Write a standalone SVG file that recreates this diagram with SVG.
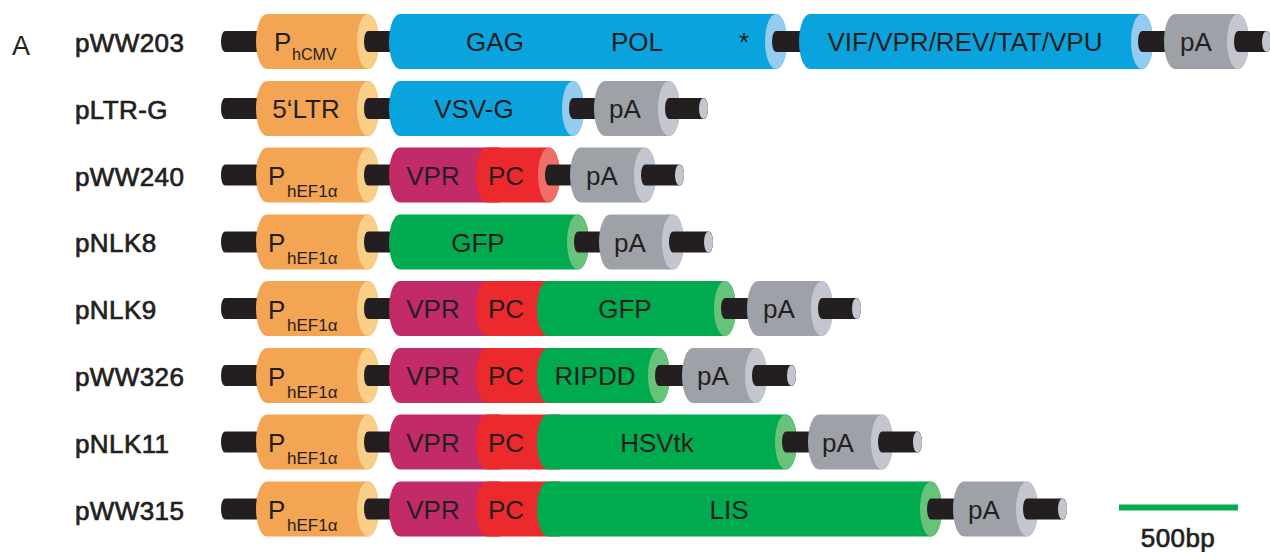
<svg xmlns="http://www.w3.org/2000/svg" width="1270" height="552" viewBox="0 0 1270 552">
<style>
.rod{fill:#231F20}
.end{fill:#C3C6CE}
.or{fill:#F3A553}.orc{fill:#F9CE86}
.bl{fill:#0BA3DD}.blc{fill:#93CCEE}
.gy{fill:#9EA2A8}.gyc{fill:#C3C6CE}
.mg{fill:#C32A68}
.rd{fill:#EC2A2E}.rdc{fill:#F16E68}
.gn{fill:#00AA4F}.gnc{fill:#67C27A}
text{font-family:"Liberation Sans",Arial,Helvetica,sans-serif;fill:#231F20}
.t{font-size:26px;text-anchor:middle}
.p{font-size:26px}
.s1{font-size:16px}
.s2{font-size:17px}
.lab{font-size:26px;stroke:#231F20;stroke-width:0.7;letter-spacing:0.4px}
</style>
<text x="12" y="55" style="font-size:27px">A</text>

<g id="pWW203">
<text class="lab" x="75" y="52">pWW203</text>
<rect class="rod" x="221" y="31" width="50" height="21" rx="4" ry="10.5"/>
<path class="or" d="M267 14H368A11 27.5 0 0 1 368 69H267A11 27.5 0 0 1 267 14Z"/><ellipse class="orc" cx="368" cy="41.5" rx="11" ry="27.5"/>
<rect class="rod" x="364" y="31" width="40" height="21" rx="4" ry="10.5"/>
<path class="bl" d="M400 14H776A11 27.5 0 0 1 776 69H400A11 27.5 0 0 1 400 14Z"/><ellipse class="blc" cx="776" cy="41.5" rx="11" ry="27.5"/>
<rect class="rod" x="772" y="31" width="40" height="21" rx="4" ry="10.5"/>
<path class="bl" d="M810 14H1142A11 27.5 0 0 1 1142 69H810A11 27.5 0 0 1 810 14Z"/><ellipse class="blc" cx="1142" cy="41.5" rx="11" ry="27.5"/>
<rect class="rod" x="1138" y="31" width="40" height="21" rx="4" ry="10.5"/>
<path class="gy" d="M1175 14H1238A11 27.5 0 0 1 1238 69H1175A11 27.5 0 0 1 1175 14Z"/><ellipse class="gyc" cx="1238" cy="41.5" rx="11" ry="27.5"/>
<rect class="rod" x="1234" y="31" width="37" height="21" rx="4" ry="10.5"/><ellipse class="end" cx="1266.5" cy="41.5" rx="4.5" ry="10.5"/>
<text class="p" x="274" y="51">P<tspan class="s1" x="292" y="59.5">hCMV</tspan></text>
<text class="t" x="495" y="51">GAG</text>
<text class="t" x="637" y="51">POL</text>
<text class="t" x="744" y="51">*</text>
<text class="t" x="965" y="51">VIF/VPR/REV/TAT/VPU</text>
<text class="t" x="1196" y="51">pA</text>
</g>

<g id="pLTR-G">
<text class="lab" x="75" y="119">pLTR-G</text>
<rect class="rod" x="221" y="98" width="50" height="21" rx="4" ry="10.5"/>
<path class="or" d="M267 81H368A11 27.5 0 0 1 368 136H267A11 27.5 0 0 1 267 81Z"/><ellipse class="orc" cx="368" cy="108.5" rx="11" ry="27.5"/>
<rect class="rod" x="364" y="98" width="40" height="21" rx="4" ry="10.5"/>
<path class="bl" d="M400 81H573A11 27.5 0 0 1 573 136H400A11 27.5 0 0 1 400 81Z"/><ellipse class="blc" cx="573" cy="108.5" rx="11" ry="27.5"/>
<rect class="rod" x="569" y="98" width="40" height="21" rx="4" ry="10.5"/>
<path class="gy" d="M605 81H669A11 27.5 0 0 1 669 136H605A11 27.5 0 0 1 605 81Z"/><ellipse class="gyc" cx="669" cy="108.5" rx="11" ry="27.5"/>
<rect class="rod" x="665" y="98" width="43" height="21" rx="4" ry="10.5"/><ellipse class="end" cx="703.5" cy="108.5" rx="4.5" ry="10.5"/>
<text class="t" x="306" y="118">5‘LTR</text>
<text class="t" x="474" y="118">VSV-G</text>
<text class="t" x="625" y="118">pA</text>
</g>

<g id="pWW240">
<text class="lab" x="75" y="185.5">pWW240</text>
<rect class="rod" x="221" y="164.5" width="50" height="21" rx="4" ry="10.5"/>
<path class="or" d="M267 147.5H368A11 27.5 0 0 1 368 202.5H267A11 27.5 0 0 1 267 147.5Z"/><ellipse class="orc" cx="368" cy="175" rx="11" ry="27.5"/>
<rect class="rod" x="364" y="164.5" width="40" height="21" rx="4" ry="10.5"/>
<path class="mg" d="M400 147.5H500V202.5H400A11 27.5 0 0 1 400 147.5Z"/>
<path class="rd" d="M487 147.5H549A11 27.5 0 0 1 549 202.5H487A11 27.5 0 0 1 487 147.5Z"/><ellipse class="rdc" cx="549" cy="175" rx="11" ry="27.5"/>
<rect class="rod" x="545" y="164.5" width="40" height="21" rx="4" ry="10.5"/>
<path class="gy" d="M581 147.5H645A11 27.5 0 0 1 645 202.5H581A11 27.5 0 0 1 581 147.5Z"/><ellipse class="gyc" cx="645" cy="175" rx="11" ry="27.5"/>
<rect class="rod" x="641" y="164.5" width="43" height="21" rx="4" ry="10.5"/><ellipse class="end" cx="679.5" cy="175" rx="4.5" ry="10.5"/>
<text class="p" x="268" y="185">P<tspan class="s2" x="287" y="197">hEF1α</tspan></text>
<text class="t" x="433" y="184.5">VPR</text>
<text class="t" x="506" y="184.5">PC</text>
<text class="t" x="602" y="184.5">pA</text>
</g>

<g id="pNLK8">
<text class="lab" x="75" y="252">pNLK8</text>
<rect class="rod" x="221" y="231.5" width="50" height="21" rx="4" ry="10.5"/>
<path class="or" d="M267 214.5H368A11 27.5 0 0 1 368 269.5H267A11 27.5 0 0 1 267 214.5Z"/><ellipse class="orc" cx="368" cy="242" rx="11" ry="27.5"/>
<rect class="rod" x="364" y="231.5" width="40" height="21" rx="4" ry="10.5"/>
<path class="gn" d="M400 214.5H578A11 27.5 0 0 1 578 269.5H400A11 27.5 0 0 1 400 214.5Z"/><ellipse class="gnc" cx="578" cy="242" rx="11" ry="27.5"/>
<rect class="rod" x="574" y="231.5" width="40" height="21" rx="4" ry="10.5"/>
<path class="gy" d="M610 214.5H673A11 27.5 0 0 1 673 269.5H610A11 27.5 0 0 1 610 214.5Z"/><ellipse class="gyc" cx="673" cy="242" rx="11" ry="27.5"/>
<rect class="rod" x="669" y="231.5" width="44" height="21" rx="4" ry="10.5"/><ellipse class="end" cx="708.5" cy="242" rx="4.5" ry="10.5"/>
<text class="p" x="268" y="252">P<tspan class="s2" x="287" y="264">hEF1α</tspan></text>
<text class="t" x="478" y="251.5">GFP</text>
<text class="t" x="630" y="251.5">pA</text>
</g>

<g id="pNLK9">
<text class="lab" x="75" y="319">pNLK9</text>
<rect class="rod" x="221" y="298" width="50" height="21" rx="4" ry="10.5"/>
<path class="or" d="M267 281H368A11 27.5 0 0 1 368 336H267A11 27.5 0 0 1 267 281Z"/><ellipse class="orc" cx="368" cy="308.5" rx="11" ry="27.5"/>
<rect class="rod" x="364" y="298" width="40" height="21" rx="4" ry="10.5"/>
<path class="mg" d="M400 281H500V336H400A11 27.5 0 0 1 400 281Z"/>
<path class="rd" d="M487 281H560V336H487A11 27.5 0 0 1 487 281Z"/>
<path class="gn" d="M548 281H725A11 27.5 0 0 1 725 336H548A11 27.5 0 0 1 548 281Z"/><ellipse class="gnc" cx="725" cy="308.5" rx="11" ry="27.5"/>
<rect class="rod" x="721" y="298" width="40" height="21" rx="4" ry="10.5"/>
<path class="gy" d="M758 281H822A11 27.5 0 0 1 822 336H758A11 27.5 0 0 1 758 281Z"/><ellipse class="gyc" cx="822" cy="308.5" rx="11" ry="27.5"/>
<rect class="rod" x="818" y="298" width="43" height="21" rx="4" ry="10.5"/><ellipse class="end" cx="856.5" cy="308.5" rx="4.5" ry="10.5"/>
<text class="p" x="268" y="318.5">P<tspan class="s2" x="287" y="330.5">hEF1α</tspan></text>
<text class="t" x="433" y="318">VPR</text>
<text class="t" x="506" y="318">PC</text>
<text class="t" x="625" y="318">GFP</text>
<text class="t" x="779" y="318">pA</text>
</g>

<g id="pWW326">
<text class="lab" x="75" y="386">pWW326</text>
<rect class="rod" x="221" y="365" width="50" height="21" rx="4" ry="10.5"/>
<path class="or" d="M267 348H368A11 27.5 0 0 1 368 403H267A11 27.5 0 0 1 267 348Z"/><ellipse class="orc" cx="368" cy="375.5" rx="11" ry="27.5"/>
<rect class="rod" x="364" y="365" width="40" height="21" rx="4" ry="10.5"/>
<path class="mg" d="M400 348H500V403H400A11 27.5 0 0 1 400 348Z"/>
<path class="rd" d="M487 348H560V403H487A11 27.5 0 0 1 487 348Z"/>
<path class="gn" d="M548 348H659A11 27.5 0 0 1 659 403H548A11 27.5 0 0 1 548 348Z"/><ellipse class="gnc" cx="659" cy="375.5" rx="11" ry="27.5"/>
<rect class="rod" x="655" y="365" width="40" height="21" rx="4" ry="10.5"/>
<path class="gy" d="M693 348H756A11 27.5 0 0 1 756 403H693A11 27.5 0 0 1 693 348Z"/><ellipse class="gyc" cx="756" cy="375.5" rx="11" ry="27.5"/>
<rect class="rod" x="752" y="365" width="44" height="21" rx="4" ry="10.5"/><ellipse class="end" cx="791.5" cy="375.5" rx="4.5" ry="10.5"/>
<text class="p" x="268" y="385.5">P<tspan class="s2" x="287" y="397.5">hEF1α</tspan></text>
<text class="t" x="433" y="385">VPR</text>
<text class="t" x="506" y="385">PC</text>
<text class="t" x="595" y="385">RIPDD</text>
<text class="t" x="713" y="385">pA</text>
</g>

<g id="pNLK11">
<text class="lab" x="75" y="452.5">pNLK11</text>
<rect class="rod" x="221" y="431.5" width="50" height="21" rx="4" ry="10.5"/>
<path class="or" d="M267 414.5H368A11 27.5 0 0 1 368 469.5H267A11 27.5 0 0 1 267 414.5Z"/><ellipse class="orc" cx="368" cy="442" rx="11" ry="27.5"/>
<rect class="rod" x="364" y="431.5" width="40" height="21" rx="4" ry="10.5"/>
<path class="mg" d="M400 414.5H500V469.5H400A11 27.5 0 0 1 400 414.5Z"/>
<path class="rd" d="M487 414.5H560V469.5H487A11 27.5 0 0 1 487 414.5Z"/>
<path class="gn" d="M548 414.5H786A11 27.5 0 0 1 786 469.5H548A11 27.5 0 0 1 548 414.5Z"/><ellipse class="gnc" cx="786" cy="442" rx="11" ry="27.5"/>
<rect class="rod" x="782" y="431.5" width="40" height="21" rx="4" ry="10.5"/>
<path class="gy" d="M819 414.5H882A11 27.5 0 0 1 882 469.5H819A11 27.5 0 0 1 819 414.5Z"/><ellipse class="gyc" cx="882" cy="442" rx="11" ry="27.5"/>
<rect class="rod" x="878" y="431.5" width="44" height="21" rx="4" ry="10.5"/><ellipse class="end" cx="917.5" cy="442" rx="4.5" ry="10.5"/>
<text class="p" x="268" y="452">P<tspan class="s2" x="287" y="464">hEF1α</tspan></text>
<text class="t" x="433" y="451.5">VPR</text>
<text class="t" x="506" y="451.5">PC</text>
<text class="t" x="657" y="451.5">HSVtk</text>
<text class="t" x="838" y="451.5">pA</text>
</g>

<g id="pWW315">
<text class="lab" x="75" y="519.5">pWW315</text>
<rect class="rod" x="221" y="498.5" width="50" height="21" rx="4" ry="10.5"/>
<path class="or" d="M267 481.5H368A11 27.5 0 0 1 368 536.5H267A11 27.5 0 0 1 267 481.5Z"/><ellipse class="orc" cx="368" cy="509" rx="11" ry="27.5"/>
<rect class="rod" x="364" y="498.5" width="40" height="21" rx="4" ry="10.5"/>
<path class="mg" d="M400 481.5H500V536.5H400A11 27.5 0 0 1 400 481.5Z"/>
<path class="rd" d="M487 481.5H560V536.5H487A11 27.5 0 0 1 487 481.5Z"/>
<path class="gn" d="M548 481.5H931A11 27.5 0 0 1 931 536.5H548A11 27.5 0 0 1 548 481.5Z"/><ellipse class="gnc" cx="931" cy="509" rx="11" ry="27.5"/>
<rect class="rod" x="927" y="498.5" width="40" height="21" rx="4" ry="10.5"/>
<path class="gy" d="M964 481.5H1027A11 27.5 0 0 1 1027 536.5H964A11 27.5 0 0 1 964 481.5Z"/><ellipse class="gyc" cx="1027" cy="509" rx="11" ry="27.5"/>
<rect class="rod" x="1023" y="498.5" width="44" height="21" rx="4" ry="10.5"/><ellipse class="end" cx="1062.5" cy="509" rx="4.5" ry="10.5"/>
<text class="p" x="268" y="519">P<tspan class="s2" x="287" y="531">hEF1α</tspan></text>
<text class="t" x="433" y="518.5">VPR</text>
<text class="t" x="506" y="518.5">PC</text>
<text class="t" x="729" y="518.5">LIS</text>
<text class="t" x="984" y="518.5">pA</text>
</g>

<g id="scale">
<rect x="1119" y="504.5" width="119" height="6" fill="#00AA4F"/>
<text class="lab" x="1178" y="547" text-anchor="middle">500bp</text>
</g>
</svg>
